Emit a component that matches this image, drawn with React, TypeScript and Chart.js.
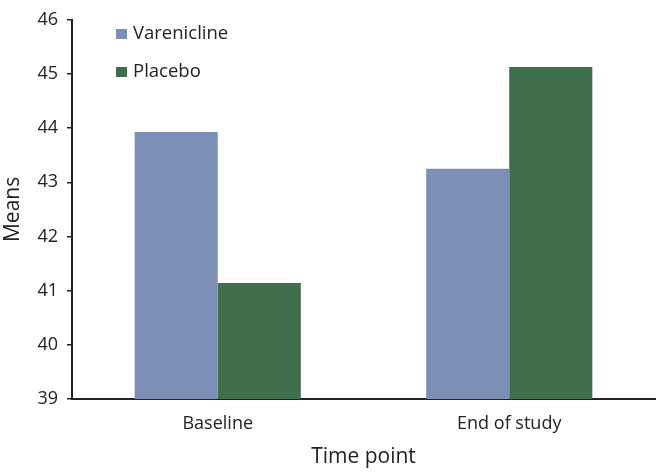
import React, { useEffect, useRef } from "react";
import { Chart, registerables } from "chart.js";

Chart.register(...registerables);

const categories = ["Baseline", "End of study"];
const seriesNames = ["Varenicline", "Placebo"];
const vareniclineValues = [43.93, 43.25];
const placeboValues = [41.14, 45.13];
const seriesColors = ["#7b8fb7", "#3e6e4c"];
const yMin = 39;
const yMax = 46;
const FONT = "'Open Sans', sans-serif";

const insideLegend = {
  id: "insideLegend",
  afterDraw(chart: any) {
    const ctx = chart.ctx;
    ctx.save();
    ctx.font = `18.5px ${FONT}`;
    ctx.textBaseline = "middle";
    ctx.textAlign = "left";
    chart.data.datasets.forEach((ds: any, i: number) => {
      const cy = 34 + i * 38;
      ctx.fillStyle = ds.backgroundColor;
      ctx.fillRect(116, cy - 5, 11, 10);
      ctx.fillStyle = "#222";
      ctx.fillText(ds.label, 133, cy);
    });
    ctx.restore();
  },
};

export default function App() {
  const ref = useRef<HTMLCanvasElement>(null);
  useEffect(() => {
    document.body.style.margin = "0";
    const chart = new Chart(ref.current!, {
      type: "bar",
      data: {
        labels: categories,
        datasets: [
          { label: seriesNames[0], data: vareniclineValues, backgroundColor: seriesColors[0] },
          { label: seriesNames[1], data: placeboValues, backgroundColor: seriesColors[1] },
        ],
      },
      options: {
        animation: false,
        responsive: false,
        layout: { padding: { top: 10, right: 2, left: 0, bottom: 0 } },
        datasets: { bar: { categoryPercentage: 0.57, barPercentage: 1 } },
        plugins: { legend: { display: false }, tooltip: { enabled: false } },
        scales: {
          x: {
            grid: { display: false, drawTicks: false },
            border: { display: true, color: "#222", width: 2 },
            ticks: { color: "#222", font: { family: FONT, size: 18 }, padding: 14 },
            title: {
              display: true,
              text: "Time point",
              color: "#222",
              font: { family: FONT, size: 21 },
              padding: { top: 0, bottom: 3 },
            },
            afterFit(scale: any) {
              scale.height = 74;
            },
          },
          y: {
            min: yMin,
            max: yMax,
            ticks: { stepSize: 1, color: "#222", font: { family: FONT, size: 18 }, padding: 9 },
            grid: { drawOnChartArea: false, drawTicks: true, tickLength: 5, color: "#222", lineWidth: 1.5 },
            border: { display: true, color: "#222", width: 2 },
            title: {
              display: true,
              text: "Means",
              color: "#222",
              font: { family: FONT, size: 21 },
              padding: { top: 0, bottom: 0 },
            },
            afterFit(scale: any) {
              scale.width = 72;
            },
          },
        },
      },
      plugins: [insideLegend],
    });
    return () => chart.destroy();
  }, []);
  return <canvas ref={ref} width={657} height={473} style={{ display: "block" }} />;
}
